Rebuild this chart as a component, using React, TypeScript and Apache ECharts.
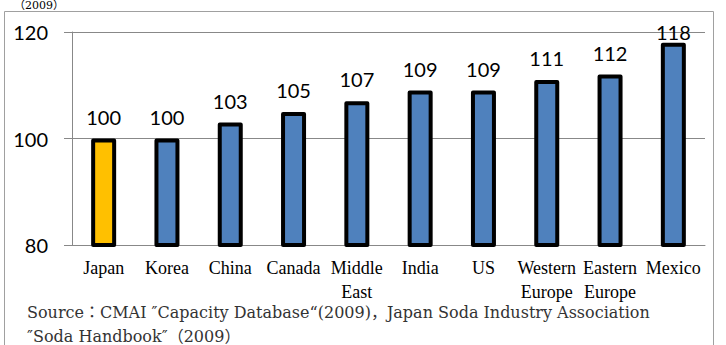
import React, { useEffect, useRef } from "react";
import * as echarts from "echarts";

const regions = ["Japan", "Korea", "China", "Canada", "Middle\nEast", "India", "US", "Western\nEurope", "Eastern\nEurope", "Mexico"];
const costIndex = [100, 100, 103, 105, 107, 109, 109, 111, 112, 118];
const yTicks = [80, 100, 120];
const sourceLines = [
  "Source：CMAI ″Capacity Database“(2009)，Japan Soda Industry Association",
  "″Soda Handbook″（2009）",
];
const yearNote = "（2009）";

const HOME_COLOR = "#FFC000";
const OTHER_COLOR = "#4F81BD";
const SERIF = "'Liberation Serif', 'Noto Sans CJK JP', serif";
const WIDE_SERIF = "'DejaVu Serif', 'Noto Sans CJK JP', serif";
const SANS = "Lato, 'Open Sans', sans-serif";

export default function App() {
  const ref = useRef<HTMLDivElement>(null);

  useEffect(() => {
    if (!ref.current) return;
    const chart = echarts.init(ref.current, null, { renderer: "svg" });
    const top = yTicks[yTicks.length - 1];

    const data = costIndex.map((v, i) => {
      const item: any = {
        value: v,
        itemStyle: { color: i === 0 ? HOME_COLOR : OTHER_COLOR },
      };
      // the tallest bar's label is pulled down so it stays inside the frame
      if (v === top - 2) item.label = { distance: 1 };
      return item;
    });

    chart.setOption({
      animation: false,
      backgroundColor: "#ffffff",
      grid: { left: 72, right: 21, top: 32, bottom: 100 },
      xAxis: {
        type: "category",
        data: regions,
        axisLine: { show: true, lineStyle: { color: "#888888", width: 1 } },
        axisTick: { show: false },
        axisLabel: {
          interval: 0,
          margin: 11,
          fontFamily: SERIF,
          fontSize: 18,
          lineHeight: 24,
          color: "#000000",
        },
      },
      yAxis: {
        type: "value",
        min: yTicks[0],
        max: top,
        interval: yTicks[1] - yTicks[0],
        axisLine: { show: true, lineStyle: { color: "#888888", width: 1 } },
        axisTick: { show: true, length: 8, lineStyle: { color: "#888888" } },
        splitLine: { show: true, lineStyle: { color: "#888888", width: 1 } },
        axisLabel: {
          margin: 24,
          fontFamily: SANS,
          fontSize: 20,
          color: "#000000",
        },
      },
      series: [
        {
          type: "bar",
          data,
          barWidth: 25,
          itemStyle: {
            borderColor: "#000000",
            borderWidth: 4,
            borderJoin: "round",
          },
          label: {
            show: true,
            position: "top",
            distance: 12,
            fontFamily: SANS,
            fontSize: 20,
            color: "#000000",
          },
        },
      ],
      graphic: [
        {
          type: "rect",
          shape: { x: 4.5, y: 11.5, width: 709, height: 400 },
          style: { fill: "none", stroke: "#a0a0a0", lineWidth: 1 },
          silent: true,
          z: -1,
        },
        {
          type: "text",
          x: 14,
          y: 0,
          style: { text: yearNote, font: `11px ${WIDE_SERIF}`, fill: "#000000" },
        },
        ...sourceLines.map((t, i) => ({
          type: "text",
          x: 27,
          y: 304 + i * 24,
          style: { text: t, font: `16px ${WIDE_SERIF}`, fill: "#333333" },
        })),
      ],
    });

    return () => chart.dispose();
  }, []);

  return (
    <div
      ref={ref}
      style={{ position: "fixed", left: 0, top: 0, width: 726, height: 345, background: "#fff" }}
    />
  );
}
